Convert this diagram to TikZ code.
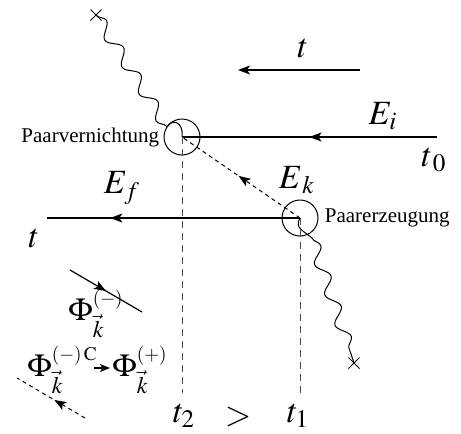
\documentclass[tikz,border=0pt]{standalone}
\usepackage{mathptmx}
\usepackage{fontspec}
\setmainfont{Liberation Serif}
\usetikzlibrary{arrows.meta,decorations.pathmorphing,decorations.markings,shapes.misc,positioning}

\tikzset{
  line/.style={line width=0.6pt},
  dline/.style={line width=0.5pt,dash pattern=on 2pt off 1.8pt},
  vline/.style={line width=0.5pt,dash pattern=on 3.5pt off 2.5pt,gray!60!black},
  midarrow/.style={postaction={decorate},decoration={markings,
    mark=at position #1 with {\arrow{Stealth[length=6pt,width=4.5pt,inset=1.5pt]}}}},
  wave/.style={line width=0.5pt,decorate,decoration={snake,segment length=16pt,amplitude=3pt}},
  hook/.style={line width=0.5pt},
  vertex/.style={circle,draw,line width=0.5pt,minimum size=18pt,inner sep=0pt},
  endx/.style={cross out,draw,line width=0.5pt,minimum size=5pt,inner sep=0pt},
  paar/.style={font=\fontsize{10.5}{12}\selectfont,inner sep=1pt},
  big/.style={font=\fontsize{17}{19}\selectfont,inner sep=1pt},
  phi/.style={font=\fontsize{16}{18}\selectfont,inner sep=1pt}
}

\begin{document}
\begin{tikzpicture}[x=0.5pt,y=-0.5pt]
  \useasboundingbox (0,0) rectangle (461,434);
  % vertices
  \coordinate (v2) at (182,137);
  \coordinate (v1) at (300,218);
  \node[vertex] (c2) at (v2) {};
  \node[vertex] (c1) at (v1) {};
  \node[paar,left=1pt of c2] (pv) {Paarvernichtung};
  \node[paar,right=2pt of c1] (pe) {Paarerzeugung};

  % photon lines
  \node[endx] (x2) at (96,15) {};
  \node[endx] (x1) at (354,363) {};
  \coordinate (w2) at (167,127);
  \coordinate (w1) at (312,238);
  \draw[wave] (x2.center) -- (w2);
  \draw[hook] (w2) .. controls (172,118) and (184,122) .. (v2);
  \draw[hook] (v1) .. controls (294,228) and (304,231) .. (w1);
  \draw[wave] (w1) -- (x1.center);

  % electron lines
  \coordinate (i0) at (437,137);
  \coordinate (f0) at (47,218);
  \draw[line,midarrow=0.5] (i0) -- (v2);
  \draw[line,midarrow=0.75] (v1) -- (f0);
  \draw[dline,midarrow=0.52] (v1) -- (v2);

  % time marks
  \coordinate (b2) at (182,393);
  \coordinate (b1) at (300,393);
  \draw[vline] (v2) -- (b2);
  \draw[vline] (v1) -- (b1);

  % time axis
  \coordinate (ta) at (360,70);
  \coordinate (tb) at (238,70);
  \draw[line,-{Stealth[length=6pt,width=4.5pt,inset=1.5pt]}] (ta) -- (tb);
  \node[big] (tt) at (303,48) {$t$};

  % labels
  \node[big] (ei) at (383,116) {$E_i$};
  \node[big] (t0) at (434,160) {$t_{\,0}$};
  \node[big] (ek) at (297,180) {$E_{\,k}$};
  \node[big] (ef) at (122,188) {$E_f$};
  \node[big] (tl) at (34,238) {$t$};
  \node[big] (t2) at (184,416) {$t_2$};
  \node[big] (t1) at (298,416) {$t_1$};
  \node[big] (gt) at (238,417) {$>$};

  % legend
  \coordinate (p1) at (70,270);
  \coordinate (p2) at (142,312);
  \draw[line,midarrow=0.5] (p1) -- (p2);
  \node[phi,anchor=west] (pm) at (66,314) {$\Phi^{\scriptscriptstyle(-)}_{\vec{k}}$};
  \node[phi,anchor=west] (pc) at (25,370) {$\Phi^{\scriptscriptstyle(-)\,\mathrm{C}}_{\vec{k}}$};
  \node[phi,anchor=west] (pp) at (110,370) {$\Phi^{\scriptscriptstyle(+)}_{\vec{k}}$};
  \draw[line,-{Stealth[length=5pt,width=4pt,inset=1.2pt]}] ([xshift=-3pt,yshift=1pt]pc.east) -- ([yshift=1pt]pp.west);
  \coordinate (q1) at (85,418);
  \coordinate (q2) at (17,378);
  \draw[dline,midarrow=0.45] (q1) -- (q2);
\end{tikzpicture}
\end{document}
